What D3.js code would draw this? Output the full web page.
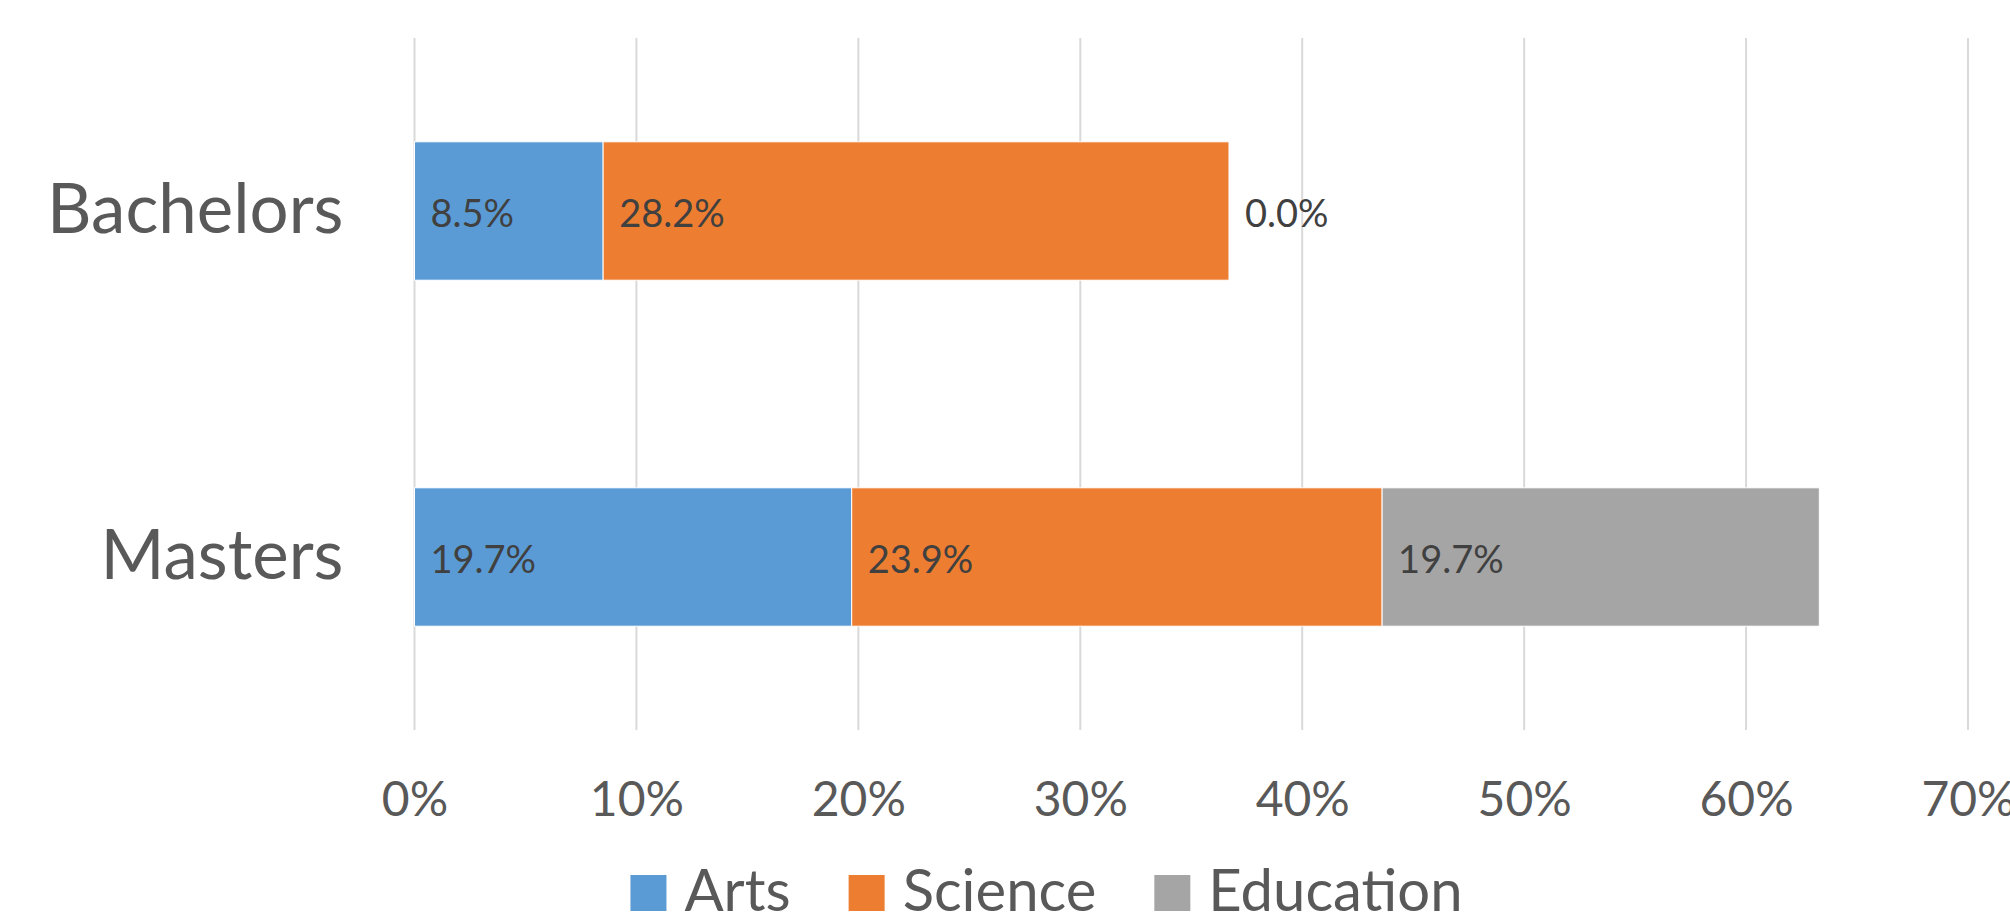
<!DOCTYPE html>
<html>
<head>
<meta charset="utf-8">
<script src="https://cdn.jsdelivr.net/npm/d3@7"></script>
<style>
  html, body { margin: 0; padding: 0; background: #fff; }
  svg { display: block; font-family: Lato, "Open Sans", sans-serif; }
</style>
</head>
<body>
<div id="chart"></div>
<script>
// chart data
var categories = ["Bachelors", "Masters"];
var seriesNames = ["Arts", "Science", "Education"];
var arts = [8.5, 19.7];
var science = [28.2, 23.9];
var education = [0.0, 19.7];
var xTicks = [0, 10, 20, 30, 40, 50, 60, 70];
var colors = ["#5B9BD5", "#ED7D31", "#A5A5A5"];

var width = 2010;
var height = 919;
// plot area edges (note: "top" is reserved on window, so use other names)
var plotLeft = 414.5, plotRight = 1968, plotTop = 38, plotBottom = 730;

var rows = categories.map(function (c, i) {
  return { cat: c, Arts: arts[i], Science: science[i], Education: education[i] };
});

var svg = d3.select("#chart")
  .append("svg")
  .attr("width", width)
  .attr("height", height);

var x = d3.scaleLinear()
  .domain([0, 70])
  .range([plotLeft, plotRight]);

var y = d3.scaleBand()
  .domain(categories)
  .range([plotTop, plotBottom])
  .paddingInner(0.6)
  .paddingOuter(0.3);

// gridlines
svg.append("g")
  .selectAll("line")
  .data(xTicks)
  .enter()
  .append("line")
  .attr("x1", function (d) { return x(d); })
  .attr("x2", function (d) { return x(d); })
  .attr("y1", plotTop)
  .attr("y2", plotBottom)
  .attr("stroke", "#d9d9d9")
  .attr("stroke-width", 2);

// x tick labels
var xaxis = d3.axisBottom(x)
  .tickValues(xTicks)
  .tickSize(0)
  .tickPadding(0)
  .tickFormat(function (d) { return d + "%"; });

var gx = svg.append("g")
  .attr("transform", "translate(0," + 815.5 + ")")
  .call(xaxis);
gx.select(".domain").remove();
gx.selectAll("text")
  .attr("y", 0)
  .attr("dy", 0)
  .attr("fill", "#595959")
  .style("font-size", "48px")
  .style("font-family", "Lato, 'Open Sans', sans-serif");

// category labels
var yaxis = d3.axisLeft(y).tickSize(0).tickPadding(0);
var gy = svg.append("g")
  .attr("transform", "translate(" + 343.5 + ",0)")
  .call(yaxis);
gy.select(".domain").remove();
gy.selectAll("text")
  .attr("x", 0)
  .attr("dy", 0)
  .attr("y", 22)
  .attr("fill", "#595959")
  .style("font-size", "69px")
  .style("font-family", "Lato, 'Open Sans', sans-serif");

// stacked bars
var stack = d3.stack().keys(seriesNames);
var layers = stack(rows);

var groups = svg.append("g")
  .selectAll("g")
  .data(layers)
  .enter()
  .append("g")
  .attr("fill", function (d, i) { return colors[i]; });

groups.selectAll("rect")
  .data(function (d) { return d; })
  .enter()
  .append("rect")
  .attr("x", function (d) { return x(d[0]); })
  .attr("y", function (d) { return y(d.data.cat); })
  .attr("width", function (d) { return x(d[1]) - x(d[0]); })
  .attr("height", y.bandwidth())
  .attr("stroke", "#fff")
  .attr("stroke-width", 1);

// data labels at inside base
groups.selectAll("text")
  .data(function (d) { return d.map(function (p) { return { p: p, key: d.key }; }); })
  .enter()
  .append("text")
  .attr("x", function (d) { return x(d.p[0]) + 16; })
  .attr("y", function (d) { return y(d.p.data.cat) + y.bandwidth() / 2 + 15.5; })
  .attr("fill", "#404040")
  .style("font-size", "38px")
  .text(function (d) { return d.p.data[d.key].toFixed(1) + "%"; });

// legend
var legend = svg.append("g");
var lx = 0;
seriesNames.forEach(function (name, i) {
  legend.append("rect")
    .attr("x", lx)
    .attr("y", 875)
    .attr("width", 36)
    .attr("height", 36)
    .attr("fill", colors[i]);
  var t = legend.append("text")
    .attr("x", lx + 54)
    .attr("y", 910.5)
    .attr("fill", "#595959")
    .style("font-size", "58px")
    .text(name);
  lx += 54 + t.node().getComputedTextLength() + 58;
});
var lw = lx - 58;
legend.attr("transform", "translate(" + (1046.5 - lw / 2) + ",0)");
</script>
</body>
</html>
